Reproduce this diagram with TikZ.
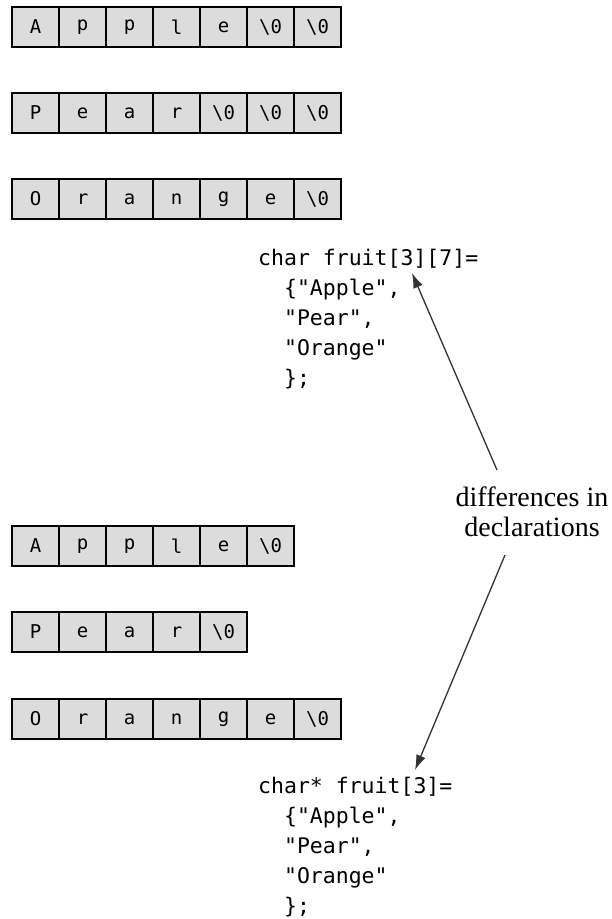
\documentclass[tikz,border=0pt]{standalone}
\usepackage{fontspec}
\usetikzlibrary{arrows.meta, positioning}
\newfontfamily\codefont{DejaVu Sans Mono}
\newfontfamily\notefont{Liberation Serif}
\newcommand{\nulchar}{\textbackslash 0}
\definecolor{cellgray}{HTML}{DCDCDC}
\definecolor{arrowgray}{HTML}{333333}

\begin{document}
\begin{tikzpicture}[
      x=1pt, y=-1pt,
      cell/.style={rectangle, draw, fill=cellgray, line width=1.8pt,
                   minimum width=47pt, minimum height=40pt, inner sep=0pt,
                   font=\codefont\fontsize{19}{19}\selectfont},
      code/.style={anchor=north west, inner sep=0pt, align=left,
                   font=\codefont\fontsize{21.5}{30}\selectfont},
      arr/.style={draw=arrowgray, line width=1.3pt,
                  -{Latex[length=15pt, width=10pt]}}
    ]
    \useasboundingbox (0,0) rectangle (611,919);

    % fixed size array rows
    \foreach \row/\y/\chars in {1/27/{A,p,p,l,e,\nulchar,\nulchar},
                                2/113/{P,e,a,r,\nulchar,\nulchar,\nulchar},
                                3/199/{O,r,a,n,g,e,\nulchar},
                                4/546/{A,p,p,l,e,\nulchar},
                                5/632/{P,e,a,r,\nulchar},
                                6/719/{O,r,a,n,g,e,\nulchar}}
      \foreach \c [count=\i] in \chars
        \node[cell] (r\row-\i) at ({35.5+47*(\i-1)}, \y) {\c};

    \node[code] (code1) at (258, 249) {char fruit[3][7]=\\
      \phantom{ch}\{"Apple",\\
      \phantom{ch}"Pear",\\
      \phantom{ch}"Orange"\\
      \phantom{ch}\};};

    \node[code] (code2) at (258, 777) {char* fruit[3]=\\
      \phantom{ch}\{"Apple",\\
      \phantom{ch}"Pear",\\
      \phantom{ch}"Orange"\\
      \phantom{ch}\};};

    \node[align=center, inner sep=0pt,
          font=\notefont\fontsize{28}{30}\selectfont] (note) at (532, 512)
      {differences in\\declarations};

    \coordinate (tail1) at (497, 470);
    \coordinate (tip1) at (412, 273);
    \coordinate (tail2) at (505, 555);
    \coordinate (tip2) at (415, 770);

    \draw[arr] (tail1) -- (tip1);
    \draw[arr] (tail2) -- (tip2);

  \end{tikzpicture}
\end{document}
